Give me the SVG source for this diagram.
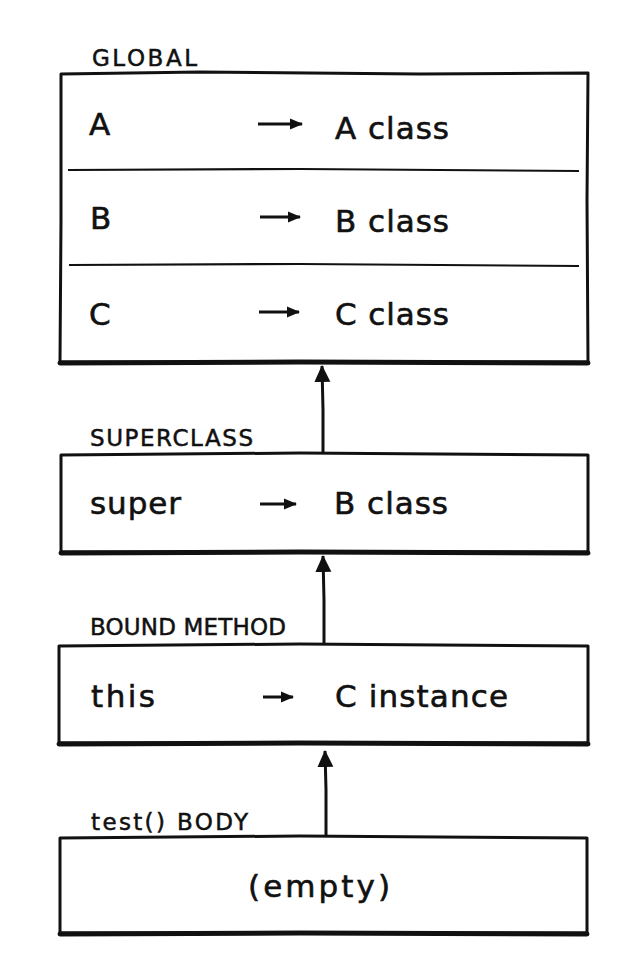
<svg xmlns="http://www.w3.org/2000/svg" width="639" height="963" viewBox="0 0 639 963">
<defs>
<style>
.box{fill:none;stroke:#111;stroke-width:3;stroke-linejoin:round;stroke-linecap:round}
.bot{fill:none;stroke:#111;stroke-width:5;stroke-linecap:round}
.div{fill:none;stroke:#111;stroke-width:2.2}
.t{font-family:"DejaVu Sans","Open Sans",sans-serif;font-size:31px;fill:#111;stroke:#111;stroke-width:0.6}
.lbl{font-family:"DejaVu Sans","Open Sans",sans-serif;font-size:23px;fill:#111;stroke:#111;stroke-width:0.5}
.ia{stroke:#111;stroke-width:3;fill:none}
.conn{stroke:#111;stroke-width:3;fill:none}
</style>
<marker id="ih" markerUnits="userSpaceOnUse" markerWidth="14" markerHeight="12" refX="12" refY="6" orient="auto">
<path d="M0,0.5 L13,6 L0,11.5 Z" fill="#111"/>
</marker>
<marker id="ch" markerUnits="userSpaceOnUse" markerWidth="18" markerHeight="18" refX="16" refY="8" orient="auto">
<path d="M0,0 L17,8 L0,16 Z" fill="#111"/>
</marker>
</defs>

<g id="global">
<path class="box" d="M61,74 L200,72 L420,74 L588,73 L587,200 L588,362 L60,362 L61,220 Z"/>
<path class="bot" d="M60,363 L300,362 L588,363"/>
<path class="div" d="M68,170 L300,169 L579,171"/>
<path class="div" d="M69,265 L300,264 L579,266"/>
<text class="lbl" x="92" y="66" textLength="105">GLOBAL</text>
<text class="t" x="89" y="135" textLength="24">A</text>
<line class="ia" x1="258" y1="124" x2="302" y2="124" marker-end="url(#ih)"/>
<text class="t" x="335" y="139" textLength="114">A class</text>
<text class="t" x="90" y="229">B</text>
<line class="ia" x1="260" y1="217" x2="300" y2="217" marker-end="url(#ih)"/>
<text class="t" x="335" y="232" textLength="114">B class</text>
<text class="t" x="89" y="325">C</text>
<line class="ia" x1="259" y1="312" x2="299" y2="312" marker-end="url(#ih)"/>
<text class="t" x="335" y="325" textLength="114">C class</text>
</g>

<g id="superclass">
<path class="box" d="M61,455 L300,453 L588,455 L588,552 L61,552 Z"/>
<path class="bot" d="M61,553 L300,552 L588,553"/>
<text class="lbl" x="90" y="446" textLength="163">SUPERCLASS</text>
<text class="t" x="90" y="514" textLength="91">super</text>
<line class="ia" x1="260" y1="504" x2="296" y2="504" marker-end="url(#ih)"/>
<text class="t" x="334" y="514" textLength="114">B class</text>
</g>

<g id="bound">
<path class="box" d="M59,646 L300,644 L588,646 L588,743 L59,743 Z"/>
<path class="bot" d="M59,744 L300,743 L588,744"/>
<text class="lbl" x="90" y="635" textLength="196">BOUND METHOD</text>
<text class="t" x="91" y="707" textLength="64">this</text>
<line class="ia" x1="263" y1="697" x2="293" y2="697" marker-end="url(#ih)"/>
<text class="t" x="335" y="707" textLength="173">C instance</text>
</g>

<g id="body">
<path class="box" d="M60,838 L300,836 L587,838 L587,933 L60,933 Z"/>
<path class="bot" d="M60,934 L300,933 L587,934"/>
<text class="lbl" x="91" y="830" textLength="157">test() BODY</text>
<text class="t" x="248" y="897" textLength="142">(empty)</text>
</g>

<g id="connectors">
<path class="conn" d="M323,453 L323,410 L322,366" marker-end="url(#ch)"/>
<path class="conn" d="M324,644 L324,600 L323,556" marker-end="url(#ch)"/>
<path class="conn" d="M326,836 L326,790 L325,751" marker-end="url(#ch)"/>
</g>
</svg>
